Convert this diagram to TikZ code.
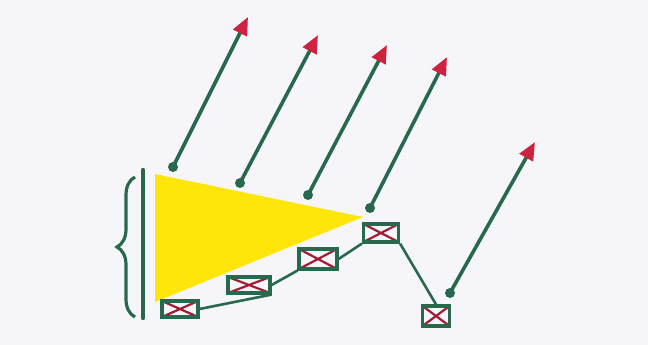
\documentclass[tikz,border=0pt]{standalone}
\usetikzlibrary{arrows.meta,decorations.pathreplacing}
\definecolor{pen}{RGB}{40,105,78}
\definecolor{redpen}{RGB}{205,35,65}
\definecolor{hl}{RGB}{255,230,10}
\definecolor{paper}{RGB}{246,246,250}
\tikzset{
  ray/.style={pen, line width=3.6pt,
    -{Triangle[redpen,length=18pt,width=15pt]}},
  dotstart/.style={pen, fill=pen},
  boxn/.style={draw=pen, line width=3.2pt, rectangle, inner sep=0pt,
    minimum width=36pt, minimum height=17pt,
    path picture={\draw[redpen!80!black, line width=2.2pt]
      (path picture bounding box.north west) -- (path picture bounding box.south east)
      (path picture bounding box.south west) -- (path picture bounding box.north east);}},
  link/.style={pen, line width=2.6pt},
}
\begin{document}
\begin{tikzpicture}[x=1pt,y=-1pt]
\fill[paper] (0,0) rectangle (648,345);
\useasboundingbox (0,0) rectangle (648,345);
% yellow triangle
\coordinate (t1) at (155,174);
\coordinate (t2) at (155,302);
\coordinate (t3) at (363,217);
\fill[hl] (t1) -- (t3) -- (t2) -- cycle;
% bar and brace
\coordinate (bartop) at (143,170);
\coordinate (barbot) at (143,318);
\draw[pen, line width=4.4pt, line cap=round] (bartop) -- (barbot);
\coordinate (brbot) at (135,317);
\coordinate (brtop) at (135,177);
\draw[pen, line width=3.2pt, decorate, decoration={brace, amplitude=18pt}] (brbot) -- (brtop);
% boxes
\node[boxn, minimum width=36pt, minimum height=16pt] (b1) at (180,309) {};
\node[boxn, minimum width=42pt, minimum height=16pt] (b2) at (249,285) {};
\node[boxn, minimum width=38pt, minimum height=20pt] (b3) at (318,259) {};
\node[boxn, minimum width=35pt, minimum height=18pt] (b4) at (381,233) {};
\node[boxn, minimum width=27pt, minimum height=20pt] (b5) at (436,316) {};
\draw[link] (b1.east) -- (b2.south east);
\draw[link] (b2.east) -- (b3.south west);
\draw[link] (b3.east) -- (b4.south west);
\draw[link] (b4.south east) -- (b5.north);
% rays
\foreach \n/\sx/\sy/\ex/\ey in {1/173/167/248/17, 2/240/183/318/35, 3/308/195/387/45, 4/370/208/447/57, 5/450/293/535/142}{
  \coordinate (s\n) at (\sx,\sy);
  \coordinate (e\n) at (\ex,\ey);
  \fill[dotstart] (s\n) circle (5pt);
  \draw[ray] (s\n) -- (e\n);
}
\end{tikzpicture}
\end{document}
